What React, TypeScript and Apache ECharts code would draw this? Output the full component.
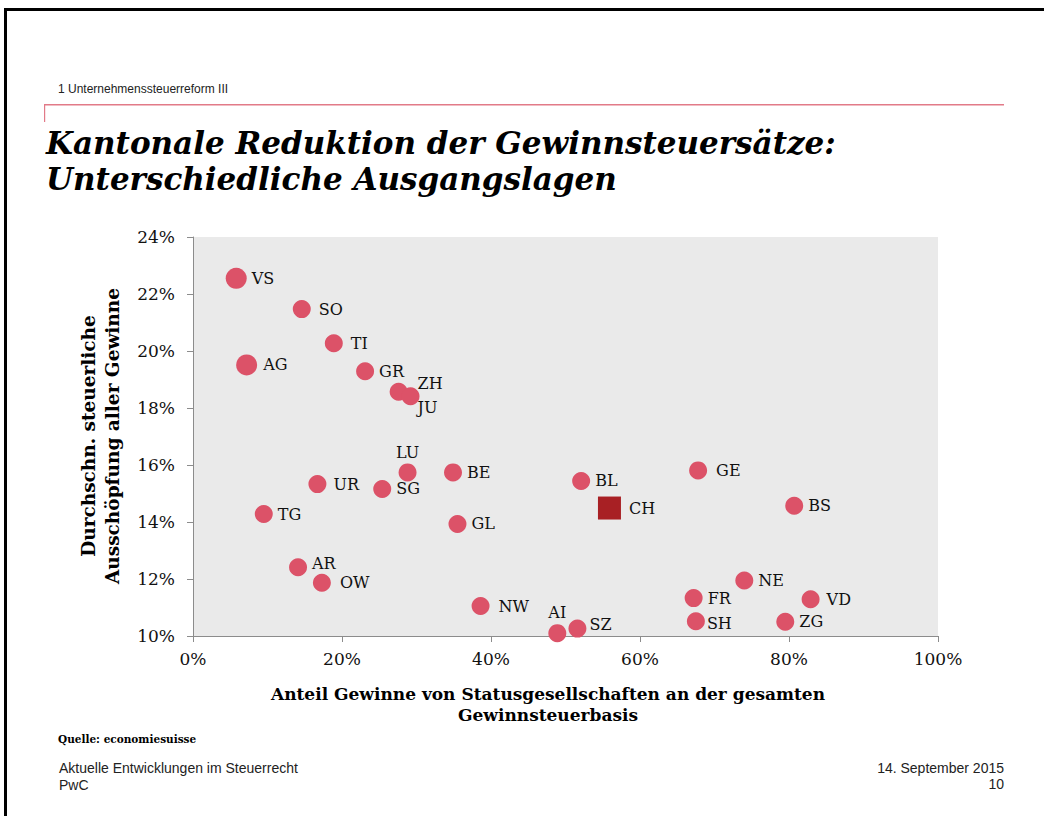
import React, { useEffect, useRef } from "react";
import * as echarts from "echarts";

// Canton codes and values
const cantons = ["VS", "SO", "TI", "AG", "GR", "ZH", "JU", "LU", "BE", "UR", "SG", "BL", "TG", "GL", "AR", "OW", "NW", "AI", "SZ", "GE", "BS", "NE", "FR", "VD", "SH", "ZG"];
// Anteil Gewinne von Statusgesellschaften (%)
const shareStatus = [5.8, 14.6, 18.9, 7.2, 23.1, 27.6, 29.2, 28.8, 34.9, 16.7, 25.4, 52.1, 9.5, 35.5, 14.1, 17.3, 38.6, 48.9, 51.6, 67.8, 80.7, 74.0, 67.2, 82.9, 67.5, 79.5];
// Durchschn. steuerliche Ausschöpfung aller Gewinne (%)
const taxRate = [22.55, 21.47, 20.27, 19.51, 19.29, 18.57, 18.41, 15.74, 15.74, 15.33, 15.16, 15.44, 14.28, 13.93, 12.41, 11.87, 11.05, 10.1, 10.26, 15.81, 14.57, 11.95, 11.33, 11.29, 10.52, 10.5];

// Switzerland average
const chName = "CH";
const chShare = [55.9];
const chRate = [14.49];

const xTicks = [0, 20, 40, 60, 80, 100];
const yTicks = [10, 12, 14, 16, 18, 20, 22, 24];

// label placement tweaks (layout only)
const labelPlacement: Record<string, { position?: string; offset?: number[]; distance?: number }> = {
  ZH: { offset: [5, -8] },
  JU: { offset: [-7, 11] },
  LU: { position: "top", offset: [0, 2] },
  AR: { offset: [0, -4] },
  AI: { position: "top", distance: 4 },
  SZ: { offset: [-2, -4] },
  SH: { offset: [-3, 2] },
  SO: { distance: 8 },
  TI: { distance: 8 },
  OW: { distance: 9 },
  NW: { distance: 9 },
  GE: { distance: 9 },
  UR: { distance: 7 },
  VD: { distance: 7 },
  AG: { distance: 6 },
};
const largeDots = ["VS", "AG"];

const serif = "DejaVu Serif";
const sans = "Liberation Sans";

export default function App() {
  const ref = useRef<HTMLDivElement>(null);
  useEffect(() => {
    if (!ref.current) return;
    const chart = echarts.init(ref.current, null, { renderer: "svg" });
    const dotData = cantons.map((c, i) => {
      const p = labelPlacement[c] || {};
      return {
        name: c,
        value: [shareStatus[i], taxRate[i]],
        symbolSize: largeDots.includes(c) ? 21 : 18,
        label: {
          position: p.position || "right",
          offset: p.offset || [0, 0],
          distance: p.distance !== undefined ? p.distance : 5,
        },
      };
    });
    const chData = chShare.map((x, i) => ({ name: chName, value: [x, chRate[i]] }));
    const pct = (v: number) => `${v}%`;

    chart.setOption({
      animation: false,
      backgroundColor: "#ffffff",
      grid: {
        left: 193,
        top: 237,
        width: 745,
        height: 399,
        show: true,
        backgroundColor: "#EAEAEA",
        borderWidth: 0,
      },
      xAxis: {
        type: "value",
        min: xTicks[0],
        max: xTicks[xTicks.length - 1],
        interval: 20,
        axisLine: { show: true, lineStyle: { color: "#8c8c8c", width: 1 } },
        axisTick: { show: true, length: 6, lineStyle: { color: "#8c8c8c" } },
        splitLine: { show: false },
        axisLabel: { formatter: pct, fontFamily: serif, fontSize: 17, color: "#111", margin: 14 },
      },
      yAxis: {
        type: "value",
        min: yTicks[0],
        max: yTicks[yTicks.length - 1],
        interval: 2,
        axisLine: { show: true, lineStyle: { color: "#8c8c8c", width: 1 } },
        axisTick: { show: true, length: 6, lineStyle: { color: "#8c8c8c" } },
        splitLine: { show: false },
        axisLabel: { formatter: pct, fontFamily: serif, fontSize: 17, color: "#111", margin: 18 },
      },
      series: [
        {
          type: "scatter",
          data: dotData,
          symbol: "circle",
          itemStyle: { color: "#DC5268", opacity: 1 },
          label: {
            show: true,
            formatter: "{b}",
            fontFamily: serif,
            fontSize: 16,
            color: "#111",
          },
          emphasis: { disabled: true },
        },
        {
          type: "scatter",
          data: chData,
          symbol: "rect",
          symbolSize: 23,
          itemStyle: { color: "#A82024", opacity: 1 },
          label: {
            show: true,
            formatter: "{b}",
            position: "right",
            distance: 8,
            fontFamily: serif,
            fontSize: 16,
            color: "#111",
          },
          emphasis: { disabled: true },
        },
      ],
      graphic: [
        // page frame
        { type: "rect", shape: { x: 4, y: 8, width: 1040, height: 3 }, style: { fill: "#000" }, silent: true },
        { type: "rect", shape: { x: 4, y: 8, width: 3, height: 808 }, style: { fill: "#000" }, silent: true },
        // header
        {
          type: "text",
          x: 58,
          y: 89,
          style: { text: "1 Unternehmenssteuerreform III", fontFamily: sans, fontSize: 12, fill: "#222", verticalAlign: "middle" },
          silent: true,
        },
        { type: "rect", shape: { x: 44, y: 104, width: 960, height: 1.5 }, style: { fill: "#E27A88" }, silent: true },
        { type: "rect", shape: { x: 44, y: 104, width: 1.2, height: 18 }, style: { fill: "#E27A88" }, silent: true },
        // title
        {
          type: "text",
          x: 46,
          y: 127,
          style: {
            text: "Kantonale Reduktion der Gewinnsteuersätze:",
            fontFamily: serif,
            fontStyle: "italic",
            fontWeight: "bold",
            fontSize: 31,
            fill: "#000",
            verticalAlign: "top",
          },
          silent: true,
        },
        {
          type: "text",
          x: 46,
          y: 163,
          style: {
            text: "Unterschiedliche Ausgangslagen",
            fontFamily: serif,
            fontStyle: "italic",
            fontWeight: "bold",
            fontSize: 31,
            fill: "#000",
            verticalAlign: "top",
          },
          silent: true,
        },
        // y axis title
        {
          type: "text",
          x: 100,
          y: 436,
          rotation: Math.PI / 2,
          style: {
            text: "Durchschn. steuerliche\nAusschöpfung aller Gewinne",
            fontFamily: serif,
            fontWeight: "bold",
            fontSize: 18.5,
            lineHeight: 24,
            fill: "#000",
            align: "center",
            verticalAlign: "middle",
          },
          silent: true,
        },
        // x axis title
        {
          type: "text",
          x: 548,
          y: 704,
          style: {
            text: "Anteil Gewinne von Statusgesellschaften an der gesamten\nGewinnsteuerbasis",
            fontFamily: serif,
            fontWeight: "bold",
            fontSize: 17,
            lineHeight: 21,
            fill: "#000",
            align: "center",
            verticalAlign: "middle",
          },
          silent: true,
        },
        // source
        {
          type: "text",
          x: 58,
          y: 739,
          style: { text: "Quelle: economiesuisse", fontFamily: serif, fontWeight: "bold", fontSize: 10.5, fill: "#000", verticalAlign: "middle" },
          silent: true,
        },
        // footer
        {
          type: "text",
          x: 59,
          y: 768,
          style: { text: "Aktuelle Entwicklungen im Steuerrecht", fontFamily: sans, fontSize: 14, fill: "#222", verticalAlign: "middle" },
          silent: true,
        },
        {
          type: "text",
          x: 59,
          y: 785,
          style: { text: "PwC", fontFamily: sans, fontSize: 14, fill: "#222", verticalAlign: "middle" },
          silent: true,
        },
        {
          type: "text",
          x: 1004,
          y: 768,
          style: { text: "14. September 2015", fontFamily: sans, fontSize: 14, fill: "#222", align: "right", verticalAlign: "middle" },
          silent: true,
        },
        {
          type: "text",
          x: 1004,
          y: 784,
          style: { text: "10", fontFamily: sans, fontSize: 14, fill: "#222", align: "right", verticalAlign: "middle" },
          silent: true,
        },
      ],
    });
    return () => chart.dispose();
  }, []);
  return (
    <div style={{ position: "absolute", left: 0, top: 0, width: 1049, height: 816, background: "#fff" }}>
      <div ref={ref} style={{ width: 1049, height: 816 }} />
    </div>
  );
}
